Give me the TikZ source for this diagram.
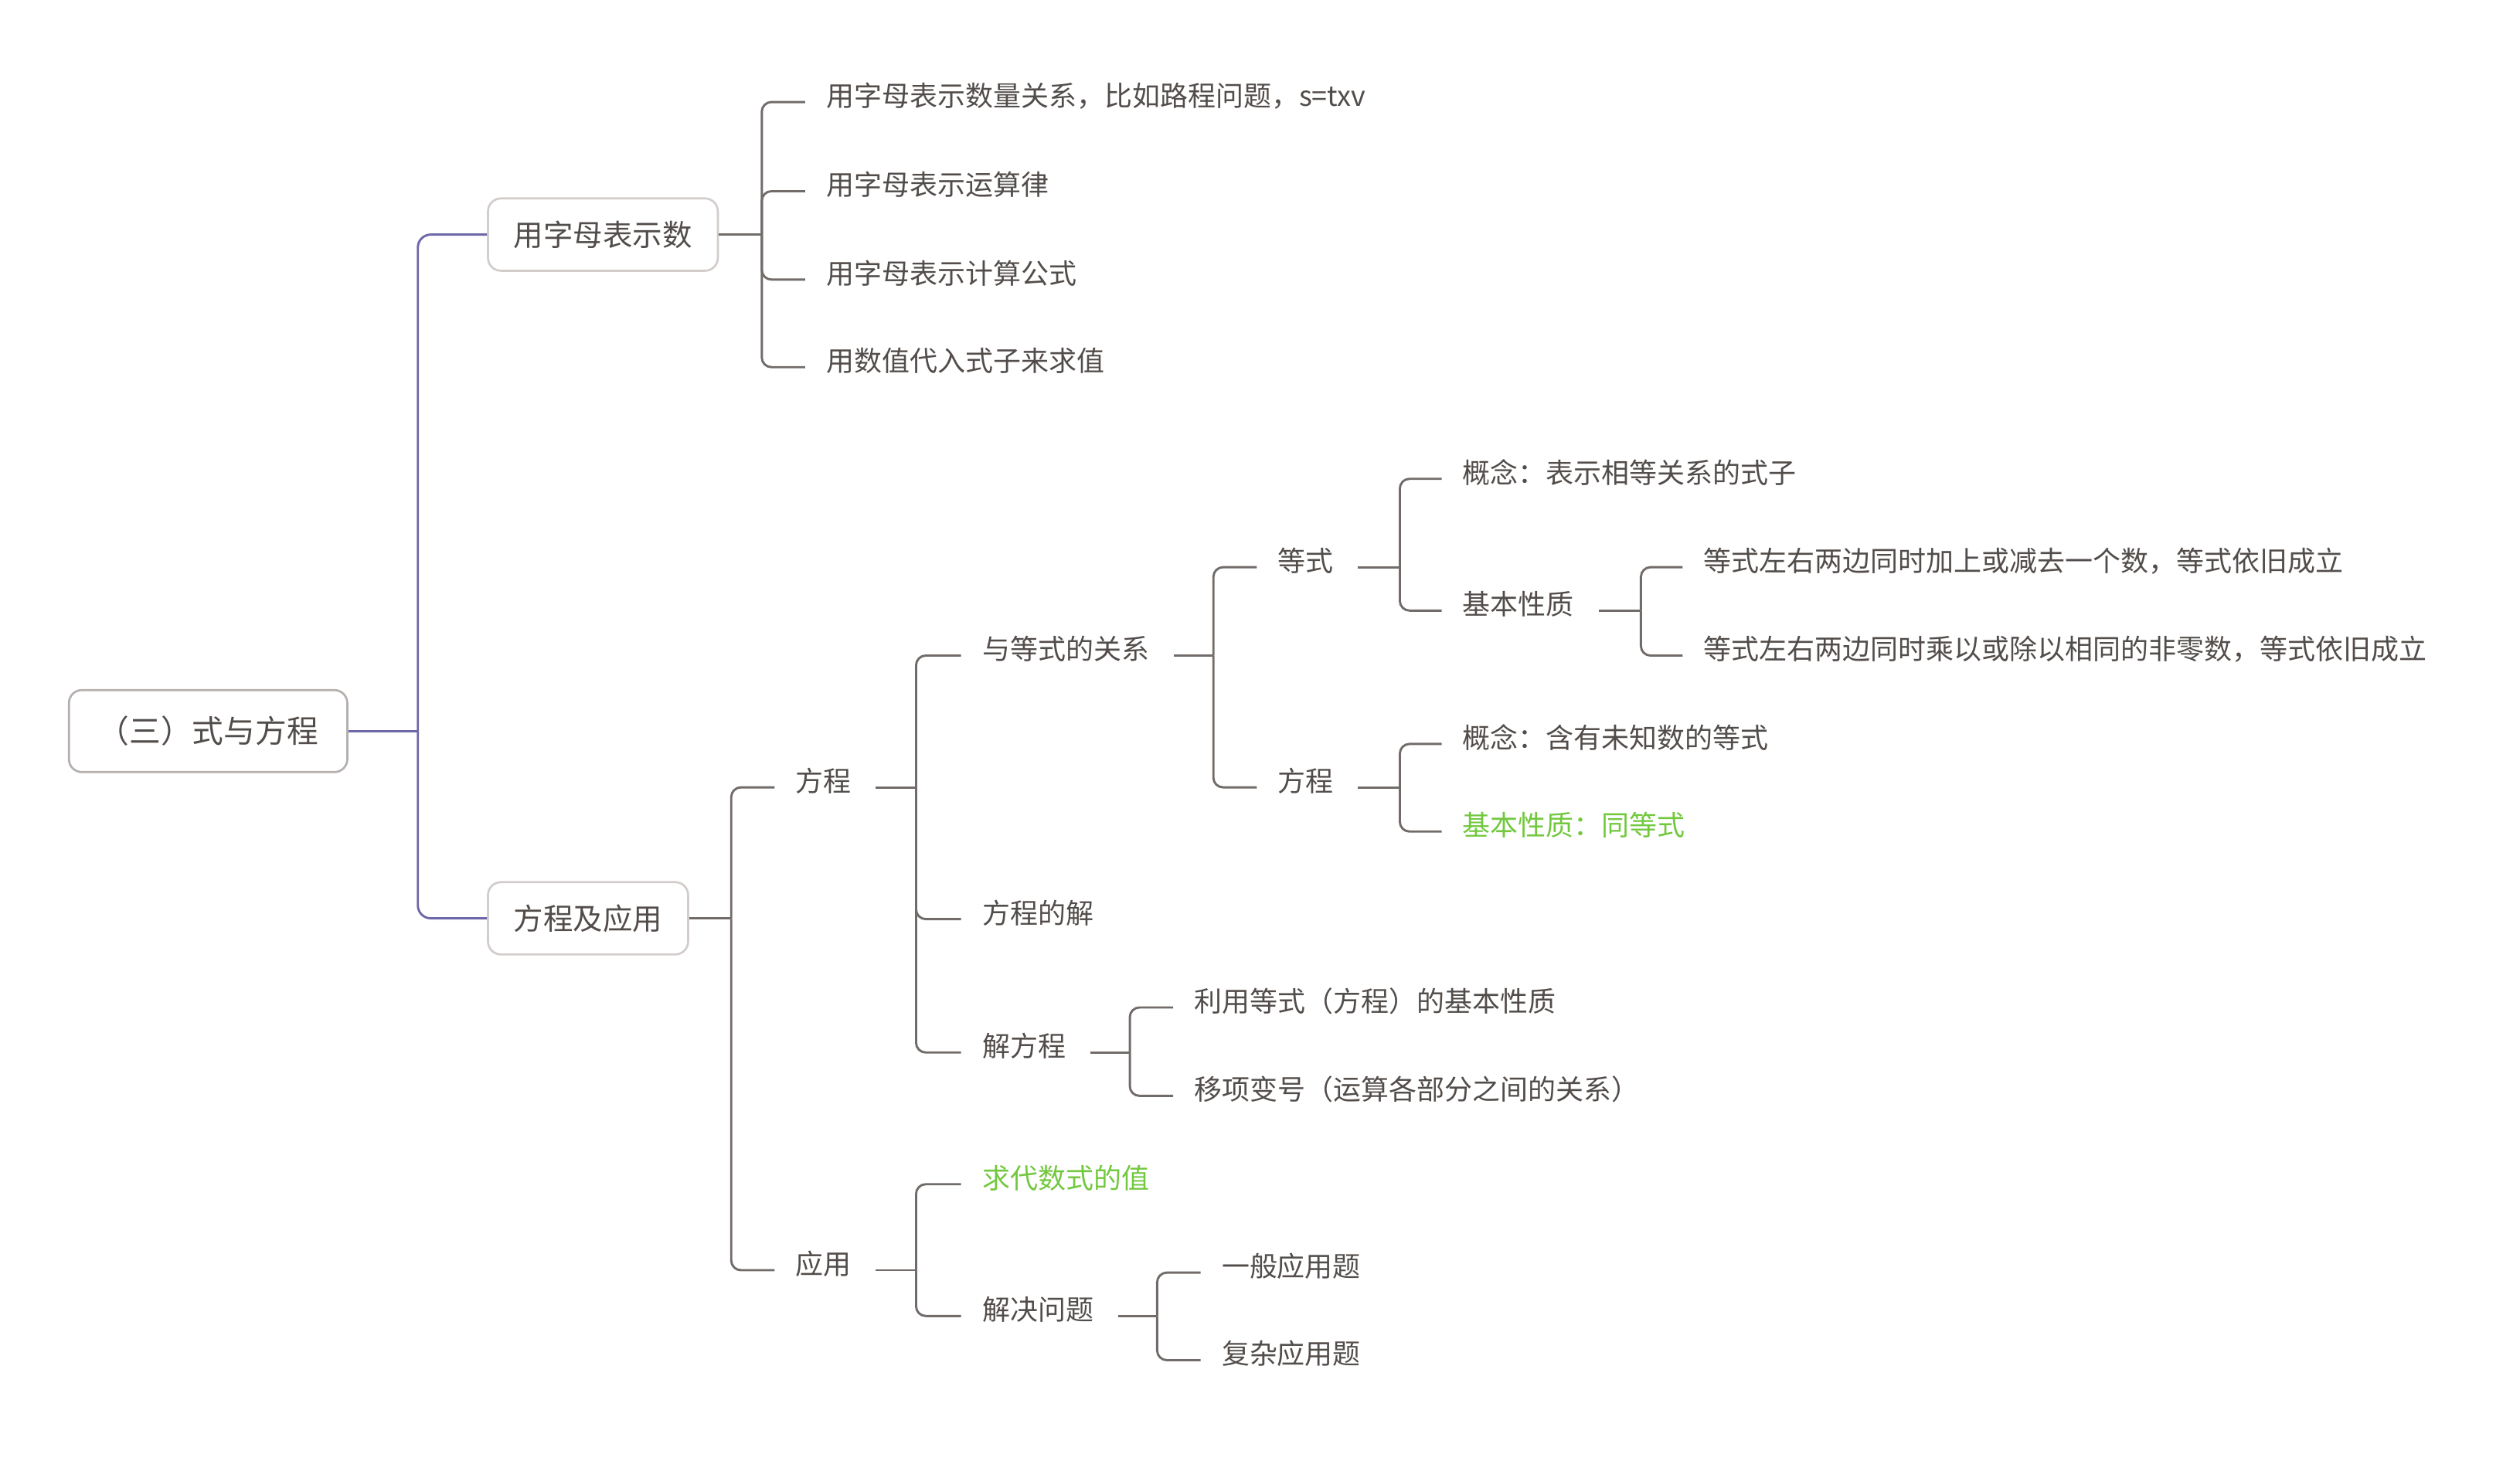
\documentclass[tikz,border=0pt]{standalone}
\usepackage{fontspec}
\setmainfont{Noto Sans CJK SC}
\usetikzlibrary{calc}
\definecolor{txt}{HTML}{524D4A}
\definecolor{grn}{HTML}{72C83E}
\definecolor{linec}{HTML}{716C69}
\definecolor{purp}{HTML}{6E68A8}
\definecolor{boxc}{HTML}{D2CDCB}
\definecolor{rootc}{HTML}{B5B0AD}
\newcommand\mmstub[2]{\draw[conn,rounded corners=0pt] ([xshift=15pt]#1.east) -- (#1.east -| #2);}
\newcommand\mmkid[3]{\draw[conn] (#1.east -| #2) |- ([xshift=-13pt]#3.west);}
\begin{document}
\begin{tikzpicture}[x=1pt,y=-1pt,
  leaf/.style={anchor=west, inner sep=0pt, text=txt, font=\fontsize{17.3}{20}\selectfont, text height=15.2pt, text depth=10pt},
  hl/.style={leaf, text=grn},
  box/.style={draw=boxc, line width=1.3pt, rounded corners=8pt, fill=white, text=txt, inner xsep=16pt, inner ysep=0pt, minimum height=45pt, text height=16.3pt, text depth=2.2pt, font=\fontsize{18.5}{22}\selectfont},
  rootbox/.style={box, draw=rootc, inner xsep=18pt, minimum height=51pt, text height=17.25pt, text depth=2.35pt, font=\fontsize{19.6}{23}\selectfont},
  conn/.style={draw=linec, line width=1.4pt, rounded corners=6pt},
  pconn/.style={draw=purp, line width=1.4pt, rounded corners=8pt}]
\useasboundingbox (0,0) rectangle (1568,909);
% junction coordinates
\coordinate (jR) at (260,0);
\coordinate (jA) at (474,0);
\coordinate (jB) at (455,0);
\coordinate (jB1) at (570,0);
\coordinate (jC1) at (755,0);
\coordinate (jD1) at (871,0);
\coordinate (jE2) at (1021,0);
\coordinate (jD2) at (871,0);
\coordinate (jC3) at (703,0);
\coordinate (jB2) at (570,0);
\coordinate (jH2) at (720,0);
% nodes
\node[rootbox] (R) at (129.5,455) {（三）式与方程};
\node[box, anchor=west] (A) at (303,146) {用字母表示数};
\node[box, anchor=west] (B) at (303,571.5) {方程及应用};
\node[leaf] (a1) at (514,63.5) {用字母表示数量关系，比如路程问题，s=txv};
\node[leaf] (a2) at (514,119) {用字母表示运算律};
\node[leaf] (a3) at (514,174) {用字母表示计算公式};
\node[leaf] (a4) at (514,228.5) {用数值代入式子来求值};
\node[leaf] (B1) at (495,490) {方程};
\node[leaf] (B2) at (495,790.5) {应用};
\node[leaf] (c1) at (611,408) {与等式的关系};
\node[leaf] (c2) at (611,572) {方程的解};
\node[leaf] (c3) at (611,655) {解方程};
\node[leaf] (d1) at (795,353) {等式};
\node[leaf] (d2) at (795,490) {方程};
\node[leaf] (e1) at (910,298) {概念：表示相等关系的式子};
\node[leaf] (e2) at (910,380) {基本性质};
\node[leaf] (f1) at (1060,353) {等式左右两边同时加上或减去一个数，等式依旧成立};
\node[leaf] (f2) at (1060,408) {等式左右两边同时乘以或除以相同的非零数，等式依旧成立};
\node[leaf] (e3) at (910,463) {概念：含有未知数的等式};
\node[hl] (e4) at (910,517.5) {基本性质：同等式};
\node[leaf] (g1) at (743,627) {利用等式（方程）的基本性质};
\node[leaf] (g2) at (743,682) {移项变号（运算各部分之间的关系）};
\node[hl] (h1) at (611,737) {求代数式的值};
\node[leaf] (h2) at (611,819) {解决问题};
\node[leaf] (i1) at (760,792) {一般应用题};
\node[leaf] (i2) at (760,846.5) {复杂应用题};
% purple connectors
\draw[pconn,rounded corners=0pt] (R.east) -- (R.east -| jR);
\draw[pconn] (R.east -| jR) |- (A.west);
\draw[pconn] (R.east -| jR) |- (B.west);
% A
\draw[conn,rounded corners=0pt] (A.east) -- (A.east -| jA);
\foreach \k in {a1,a2,a3,a4} {\draw[conn] (A.east -| jA) |- ([xshift=-13pt]\k.west);}
% B
\draw[conn,rounded corners=0pt] (B.east) -- (B.east -| jB);
\mmkid{B}{jB}{B1}
\mmkid{B}{jB}{B2}
% B1
\mmstub{B1}{jB1}
\mmkid{B1}{jB1}{c1}
\mmkid{B1}{jB1}{c2}
\mmkid{B1}{jB1}{c3}
% c1
\mmstub{c1}{jC1}
\mmkid{c1}{jC1}{d1}
\mmkid{c1}{jC1}{d2}
% d1
\mmstub{d1}{jD1}
\mmkid{d1}{jD1}{e1}
\mmkid{d1}{jD1}{e2}
% e2
\mmstub{e2}{jE2}
\mmkid{e2}{jE2}{f1}
\mmkid{e2}{jE2}{f2}
% d2
\mmstub{d2}{jD2}
\mmkid{d2}{jD2}{e3}
\mmkid{d2}{jD2}{e4}
% c3
\mmstub{c3}{jC3}
\mmkid{c3}{jC3}{g1}
\mmkid{c3}{jC3}{g2}
% B2
\mmstub{B2}{jB2}
\mmkid{B2}{jB2}{h1}
\mmkid{B2}{jB2}{h2}
% h2
\mmstub{h2}{jH2}
\mmkid{h2}{jH2}{i1}
\mmkid{h2}{jH2}{i2}
\end{tikzpicture}
\end{document}
